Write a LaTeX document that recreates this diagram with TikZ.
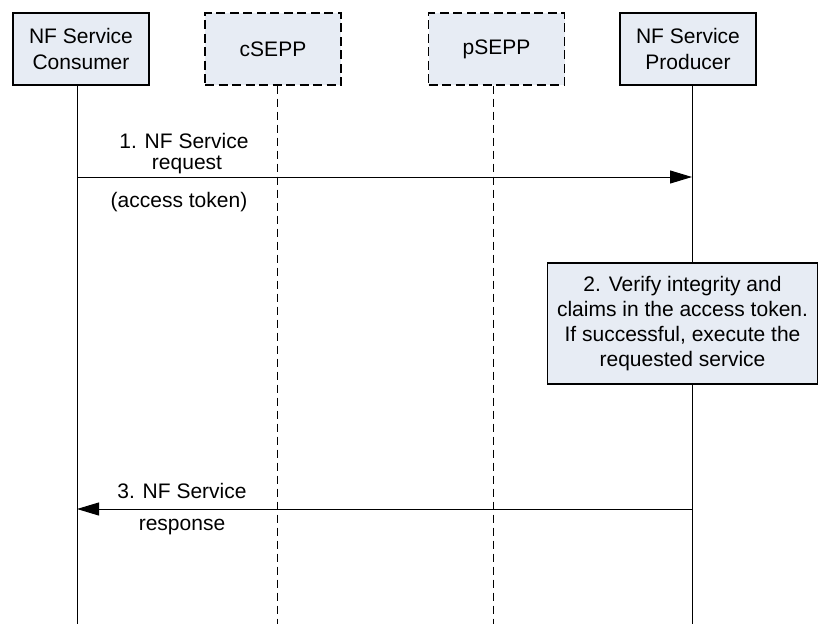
\documentclass[tikz,border=0pt]{standalone}
\usepackage{fontspec}
\setmainfont{Liberation Sans}
\usetikzlibrary{arrows.meta}
\definecolor{boxfill}{RGB}{231,236,244}
\begin{document}
\begin{tikzpicture}[x=1pt,y=-1pt,
  actor/.style={draw, line width=1.4pt, fill=boxfill, minimum width=136pt, minimum height=72pt, align=center, font=\fontsize{21}{26}\selectfont, inner sep=0pt},
  proxy/.style={actor, dash pattern=on 9pt off 4.5pt},
  life/.style={line width=1pt},
  dlife/.style={line width=1pt, dash pattern=on 8pt off 5pt},
  msg/.style={line width=1pt, -{Triangle[length=22pt,width=13pt]}},
  lbl/.style={font=\fontsize{21}{25}\selectfont, inner sep=0pt, anchor=base},
  note/.style={draw, line width=1.4pt, fill=boxfill, minimum width=270pt, minimum height=121pt, align=center, font=\fontsize{21}{25}\selectfont, inner sep=0pt}
]
\useasboundingbox (0,0) rectangle (818,630);

% participants
\node[actor] (cons) at (81,49) {NF Service\\Consumer};
\node[proxy] (csepp) at (273,49) {cSEPP};
\node[proxy] (psepp) at (496.5,49) {pSEPP};
\node[actor] (prod) at (688,49) {NF Service\\Producer};

% lifeline ends
\coordinate (consE) at (77,624);
\coordinate (cseppE) at (277,624);
\coordinate (pseppE) at (493,624);
\coordinate (prodE) at (692,624);

\draw[life] (cons.south -| consE) -- (consE);
\draw[dlife] (csepp.south -| cseppE) -- (cseppE);
\draw[dlife] (psepp.south -| pseppE) -- (pseppE);
\draw[life] (prod.south -| prodE) -- (prodE);

% message 1
\coordinate (m1s) at (77,177);
\coordinate (m1e) at (692,177);
\draw[msg] (m1s) -- (m1e);
\node[lbl] (l1a) at (184,148) {1. NF Service};
\node[lbl] (l1b) at (187,169) {request};
\node[lbl] (l1c) at (179,207) {(access token)};

% step 2
\node[note] (verify) at (682.5,323.5) {2. Verify integrity and\\claims in the access token.\\If successful, execute the\\requested service};

% message 3
\coordinate (m3s) at (692,509);
\coordinate (m3e) at (77,509);
\draw[msg] (m3s) -- (m3e);
\node[lbl] (l3a) at (182,498) {3. NF Service};
\node[lbl] (l3b) at (182,530) {response};
\end{tikzpicture}
\end{document}
